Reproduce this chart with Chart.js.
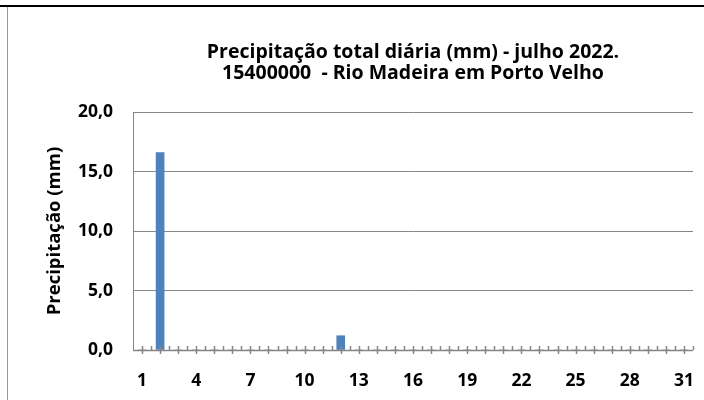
<!DOCTYPE html>
<html>
<head>
<meta charset="utf-8">
<script src="https://cdn.jsdelivr.net/npm/chart.js@4"></script>
<style>
html,body{margin:0;padding:0;background:#fff;}
#wrap{width:704px;height:400px;position:relative;}
</style>
</head>
<body>
<div id="wrap"><canvas id="c" width="704" height="400"></canvas></div>
<script>
const days = Array.from({length: 31}, (_, i) => String(i + 1));
const precipitation = [0, 16.6, 0, 0, 0, 0, 0, 0, 0, 0, 0, 1.2, 0, 0, 0, 0, 0, 0, 0, 0, 0, 0, 0, 0, 0, 0, 0, 0, 0, 0, 0];
const yTicks = [0, 5, 10, 15, 20];
const titleLines = ['Precipitação total diária (mm) - julho 2022.', '15400000  - Rio Madeira em Porto Velho'];
const yTitle = 'Precipitação (mm)';

const FONT = '"Open Sans", sans-serif';
const GREY = '#868686';

const framePlugin = {
  id: 'frame',
  beforeDraw(chart) {
    const ctx = chart.ctx;
    ctx.save();
    ctx.fillStyle = '#fff';
    ctx.fillRect(0, 0, chart.width, chart.height);
    ctx.strokeStyle = '#000';
    ctx.lineWidth = 2;
    ctx.beginPath();
    ctx.moveTo(0, 6);
    ctx.lineTo(chart.width, 6);
    ctx.stroke();
    ctx.strokeStyle = '#999';
    ctx.lineWidth = 1;
    ctx.beginPath();
    ctx.moveTo(7.5, 7);
    ctx.lineTo(7.5, chart.height);
    ctx.stroke();
    ctx.restore();
  }
};

const tickPlugin = {
  id: 'catTicks',
  afterDatasetsDraw(chart) {
    const x = chart.scales.x;
    const ctx = chart.ctx;
    const yb = chart.chartArea.bottom;
    const n = days.length;
    const w = (x.getPixelForValue(1) - x.getPixelForValue(0));
    ctx.save();
    ctx.strokeStyle = GREY;
    ctx.lineWidth = 1.5;
    ctx.beginPath();
    for (let i = 0; i < n; i++) {
      const cx = Math.round(x.getPixelForValue(i)) + 0.5;
      ctx.moveTo(cx, yb - 4);
      ctx.lineTo(cx, yb + 4);
      const bx = Math.round(x.getPixelForValue(i) + w / 2) + 0.5;
      ctx.moveTo(bx, yb - 4);
      ctx.lineTo(bx, yb);
    }
    ctx.moveTo(chart.chartArea.left, yb + 0.5);
    ctx.lineTo(chart.chartArea.right, yb + 0.5);
    ctx.stroke();
    ctx.restore();
  }
};

new Chart(document.getElementById('c'), {
  type: 'bar',
  data: {
    labels: days,
    datasets: [{
      data: precipitation,
      backgroundColor: '#4F81BD',
      borderWidth: 0,
      barThickness: 8
    }]
  },
  options: {
    responsive: false,
    animation: false,
    layout: { padding: { left: 9, right: 11, top: 7, bottom: 0 } },
    plugins: {
      legend: { display: false },
      tooltip: { enabled: false },
      title: {
        display: true,
        fullSize: false,
        text: titleLines,
        color: '#000',
        font: { family: FONT, size: 19.5, weight: 'bold', lineHeight: 1.08 },
        padding: { top: 35, bottom: 28 }
      }
    },
    scales: {
      x: {
        offset: true,
        grid: { display: false, offset: true, drawTicks: true, tickLength: 21 },
        border: { display: false },
        ticks: {
          autoSkip: false,
          maxRotation: 0,
          padding: 0,
          color: '#000',
          font: { family: FONT, size: 17.5, weight: 'bold' },
          callback: (v, i) => (i % 3 === 0 ? days[i] : '')
        },
        afterFit: s => { s.height = 50; }
      },
      y: {
        min: 0,
        max: 20,
        afterBuildTicks: s => { s.ticks = yTicks.map(v => ({ value: v })); },
        grid: { color: GREY, lineWidth: 1, drawTicks: false },
        border: { display: true, color: GREY, width: 1 },
        ticks: {
          padding: 20,
          color: '#000',
          font: { family: FONT, size: 17.5, weight: 'bold' },
          callback: v => v.toFixed(1).replace('.', ',')
        },
        title: {
          display: true,
          text: yTitle,
          color: '#000',
          font: { family: FONT, size: 18.5, weight: 'bold' },
          padding: { top: 35, bottom: 0 }
        },
        afterFit: s => { s.width = 124; }
      }
    }
  },
  plugins: [framePlugin, tickPlugin]
});
</script>
</body>
</html>
